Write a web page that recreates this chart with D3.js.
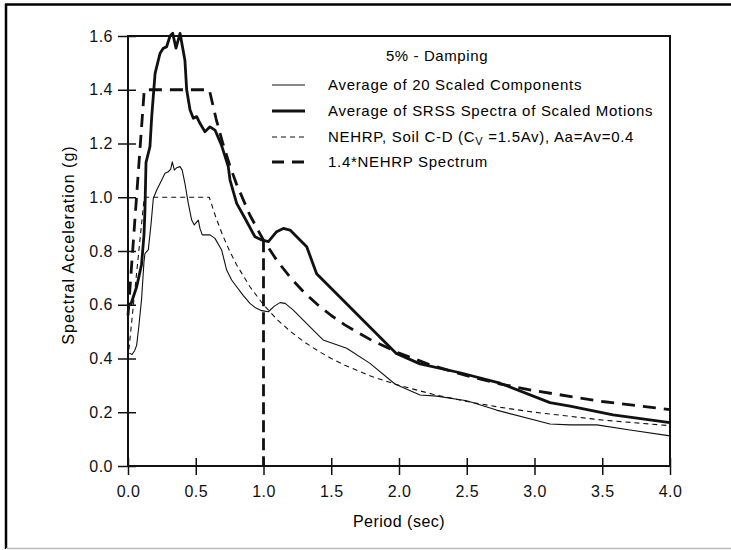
<!DOCTYPE html>
<html>
<head>
<meta charset="utf-8">
<script src="https://cdn.jsdelivr.net/npm/d3@7"></script>
<style>
  body { margin: 0; background: #fff; }
  svg { display: block; font-family: "Liberation Sans", Arial, sans-serif; }
</style>
</head>
<body>
<svg id="chart" width="731" height="550"></svg>
<script>
// Average of 20 scaled components (thin solid)
const avg20Period = [0.01, 0.03, 0.05, 0.064, 0.08, 0.1, 0.118, 0.125, 0.15, 0.17, 0.187, 0.212, 0.249, 0.273, 0.298, 0.315, 0.327, 0.342, 0.36, 0.384, 0.4, 0.42, 0.445, 0.47, 0.489, 0.519, 0.531, 0.548, 0.605, 0.642, 0.691, 0.728, 0.765, 0.802, 0.85, 0.9, 0.937, 0.987, 1.036, 1.08, 1.122, 1.16, 1.22, 1.343, 1.44, 1.614, 1.786, 1.97, 2.155, 2.278, 2.5, 2.72, 3.114, 3.262, 3.46, 3.705, 4.0];
const avg20Accel = [0.42, 0.415, 0.43, 0.45, 0.52, 0.62, 0.76, 0.79, 0.805, 0.9, 0.996, 1.027, 1.064, 1.089, 1.095, 1.105, 1.132, 1.101, 1.11, 1.114, 1.101, 1.052, 0.977, 0.915, 0.897, 0.915, 0.884, 0.86, 0.86, 0.847, 0.804, 0.729, 0.692, 0.667, 0.635, 0.605, 0.59, 0.578, 0.574, 0.595, 0.608, 0.605, 0.58, 0.518, 0.469, 0.438, 0.382, 0.305, 0.264, 0.26, 0.243, 0.208, 0.156, 0.153, 0.153, 0.134, 0.112];

// Average of SRSS spectra of scaled motions (thick solid)
const srssPeriod = [0.02, 0.064, 0.1, 0.118, 0.125, 0.133, 0.162, 0.175, 0.192, 0.2, 0.236, 0.26, 0.285, 0.31, 0.33, 0.354, 0.384, 0.42, 0.433, 0.458, 0.482, 0.507, 0.531, 0.568, 0.605, 0.642, 0.69, 0.74, 0.753, 0.802, 0.863, 0.937, 0.987, 1.036, 1.097, 1.146, 1.196, 1.269, 1.319, 1.392, 1.98, 2.155, 2.45, 2.745, 3.114, 3.262, 3.58, 4.0];
const srssAccel = [0.6, 0.667, 0.75, 0.86, 0.95, 1.13, 1.188, 1.3, 1.41, 1.461, 1.535, 1.554, 1.56, 1.6, 1.61, 1.555, 1.61, 1.51, 1.4, 1.325, 1.294, 1.3, 1.275, 1.244, 1.262, 1.25, 1.194, 1.114, 1.064, 0.977, 0.922, 0.853, 0.841, 0.835, 0.872, 0.884, 0.878, 0.841, 0.816, 0.715, 0.419, 0.38, 0.347, 0.308, 0.236, 0.223, 0.19, 0.161];

// NEHRP design spectrum and 1.4 x NEHRP
const nehrpPeriod = [0, 0.12, 0.6, 0.65, 0.7, 0.75, 0.8, 0.9, 1.0, 1.1, 1.2, 1.3, 1.4, 1.5, 1.6, 1.8, 2.0, 2.25, 2.5, 2.75, 3.0, 3.5, 4.0];
const nehrpAccel = [0.4, 1.0, 1.0, 0.923, 0.857, 0.8, 0.75, 0.667, 0.6, 0.545, 0.5, 0.462, 0.429, 0.4, 0.375, 0.333, 0.3, 0.267, 0.24, 0.218, 0.2, 0.171, 0.15];
const nehrp14Accel = [0.56, 1.4, 1.4, 1.292, 1.2, 1.12, 1.05, 0.933, 0.84, 0.764, 0.7, 0.646, 0.6, 0.56, 0.525, 0.467, 0.42, 0.373, 0.336, 0.305, 0.28, 0.24, 0.21];

// vertical marker at T = 1.0 sec
const markerPeriod = [1.0, 1.0];
const markerAccel = [0.84, 0];

const xTicks = [0, 0.5, 1, 1.5, 2, 2.5, 3, 3.5, 4];
const yTicks = [0, 0.2, 0.4, 0.6, 0.8, 1.0, 1.2, 1.4, 1.6];

const legendLabels = [
  'Average of 20 Scaled Components',
  'Average of SRSS Spectra of Scaled Motions',
  'NEHRP, Soil C-D',
  '1.4*NEHRP Spectrum'
];

const svg = d3.select('#chart');
const plot = { left: 128, right: 670, top: 36, bottom: 466 };

const x = d3.scaleLinear().domain([0, 4]).range([plot.left, plot.right]);
const y = d3.scaleLinear().domain([0, 1.6]).range([plot.bottom, plot.top]);

// outer frame (top, left dark, bottom light)
svg.append('line').attr('x1', 5).attr('x2', 731).attr('y1', 4.5).attr('y2', 4.5)
  .attr('stroke', '#000').attr('stroke-width', 2.5);
svg.append('line').attr('x1', 6).attr('x2', 6).attr('y1', 4).attr('y2', 549)
  .attr('stroke', '#000').attr('stroke-width', 2.5);
svg.append('line').attr('x1', 6).attr('x2', 731).attr('y1', 548.5).attr('y2', 548.5)
  .attr('stroke', '#bbb').attr('stroke-width', 1.5);

const zip = (xs, ys) => xs.map((d, i) => [d, ys[i]]);
const line = d3.line().x(d => x(d[0])).y(d => y(d[1]));

const series = [
  { data: zip(avg20Period, avg20Accel), width: 1.1, dash: null },
  { data: zip(srssPeriod, srssAccel), width: 2.8, dash: null },
  { data: zip(nehrpPeriod, nehrpAccel), width: 1.1, dash: '5,4' },
  { data: zip(nehrpPeriod, nehrp14Accel), width: 2.8, dash: '13,8' },
  { data: zip(markerPeriod, markerAccel), width: 2.8, dash: '12,6' }
];

svg.append('g').selectAll('path')
  .data(series)
  .join('path')
  .attr('d', d => line(d.data))
  .attr('fill', 'none')
  .attr('stroke', '#111')
  .attr('stroke-width', d => d.width)
  .attr('stroke-dasharray', d => d.dash)
  .attr('stroke-linejoin', 'round');

// axes
const fmt = d3.format('.1f');
const gx = svg.append('g')
  .attr('transform', `translate(0,${plot.bottom})`)
  .call(d3.axisBottom(x).tickValues(xTicks).tickFormat(fmt).tickSize(9).tickPadding(11).tickSizeOuter(0));
gx.selectAll('.tick line').attr('y1', -8);

const gy = svg.append('g')
  .attr('transform', `translate(${plot.left},0)`)
  .call(d3.axisLeft(y).tickValues(yTicks).tickFormat(fmt).tickSize(10).tickPadding(5).tickSizeOuter(0));
gy.selectAll('.tick line').attr('x1', 8);

[gx, gy].forEach(g => {
  g.select('.domain').remove();
  g.selectAll('.tick line').attr('stroke', '#111').attr('stroke-width', 1.5);
  g.selectAll('text').attr('font-size', 16).attr('fill', '#111')
    .attr('font-family', '"Liberation Sans", Arial, sans-serif')
    .style('letter-spacing', '0.5px');
});

svg.append('rect')
  .attr('x', plot.left).attr('y', plot.top)
  .attr('width', plot.right - plot.left).attr('height', plot.bottom - plot.top)
  .attr('fill', 'none').attr('stroke', '#111').attr('stroke-width', 2);

// axis titles
svg.append('text')
  .attr('x', (plot.left + plot.right) / 2).attr('y', 527)
  .attr('text-anchor', 'middle').attr('font-size', 16)
  .style('letter-spacing', '0.5px')
  .text('Period (sec)');

svg.append('text')
  .attr('transform', `translate(74,${(plot.top + plot.bottom) / 2 - 6}) rotate(-90)`)
  .attr('text-anchor', 'middle').attr('font-size', 16)
  .style('letter-spacing', '1px')
  .text('Spectral Acceleration (g)');

// legend
const legend = svg.append('g');
legend.append('text')
  .attr('x', 437).attr('y', 61)
  .attr('text-anchor', 'middle').attr('font-size', 15)
  .style('letter-spacing', '0.6px')
  .text('5% - Damping');

const legendY = [85, 111, 137, 162];
const rows = legend.selectAll('g.row')
  .data(legendLabels)
  .join('g')
  .attr('class', 'row')
  .attr('transform', (d, i) => `translate(0,${legendY[i]})`);

rows.append('line')
  .attr('x1', 272).attr('x2', 305).attr('y1', 0).attr('y2', 0)
  .attr('stroke', '#111')
  .attr('stroke-width', (d, i) => series[i].width)
  .attr('stroke-dasharray', (d, i) => i === 2 ? '5,4' : (i === 3 ? '12,8' : null));

const rowText = rows.append('text')
  .attr('x', 328).attr('y', 5)
  .attr('font-size', 15)
  .style('letter-spacing', '0.7px');

rowText.each(function(d, i) {
  const t = d3.select(this);
  if (i === 2) {
    t.append('tspan').text('NEHRP, Soil C-D (C');
    t.append('tspan').attr('font-size', 11).attr('dy', 3).text('V');
    t.append('tspan').attr('dy', -3).text(' =1.5Av), Aa=Av=0.4');
  } else {
    t.text(d);
  }
});
</script>
</body>
</html>
